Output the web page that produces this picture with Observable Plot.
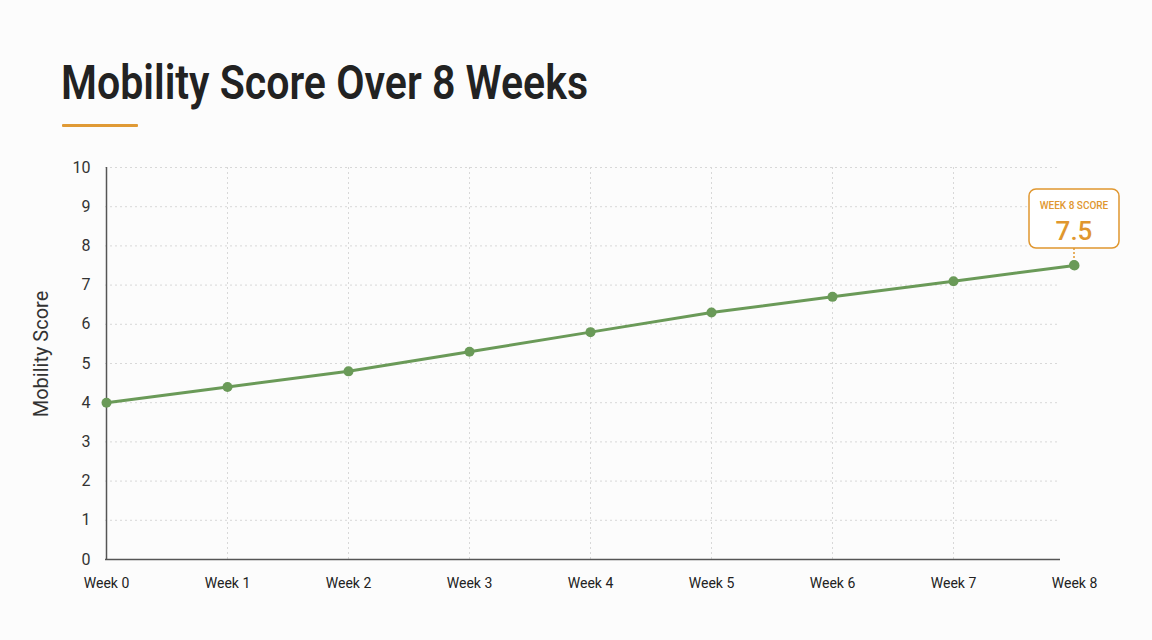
<!DOCTYPE html>
<html><head><meta charset="utf-8">
<script src="https://cdn.jsdelivr.net/npm/d3@7"></script>
<script src="https://cdn.jsdelivr.net/npm/@observablehq/plot@0.6"></script>
<style>
html,body{margin:0;padding:0;background:#fcfcfc;width:1152px;height:640px;overflow:hidden;position:relative;font-family:Roboto,sans-serif;}
#title{position:absolute;left:61px;top:54px;font-family:Roboto,"Liberation Sans",sans-serif;font-weight:600;font-size:48px;color:#222;white-space:nowrap;transform-origin:0 0;}
#bar{position:absolute;left:62px;top:124px;width:76px;height:3px;background:#e09a35;border-radius:1px;}
#chart{position:absolute;left:0;top:150px;}
</style></head>
<body>
<div id="title">Mobility Score Over 8 Weeks</div>
<div id="bar"></div>
<div id="chart"></div>
<script>
const weeks = ["Week 0","Week 1","Week 2","Week 3","Week 4","Week 5","Week 6","Week 7","Week 8"];
const scores = [4.0, 4.4, 4.8, 5.3, 5.8, 6.3, 6.7, 7.1, 7.5];
const yTicks = [0,1,2,3,4,5,6,7,8,9,10];
const annotationLabel = "WEEK 8 SCORE";

// condensed look for the title
const t = document.getElementById("title");
const tw = t.getBoundingClientRect().width;
t.style.transform = `scaleX(${527 / tw})`;

const data = weeks.map((w, i) => ({week: w, score: scores[i]}));
const green = "#6a9a58";
const orange = "#e0972f";

const plot = Plot.plot({
  width: 1152,
  height: 460,
  marginLeft: 105,
  marginRight: 92,
  marginTop: 17,
  marginBottom: 51,
  style: {background: "transparent", overflow: "visible"},
  x: {type: "point", domain: weeks, range: [105, 1074], padding: 0},
  y: {domain: [0, 10], ticks: yTicks},
  marks: [
    Plot.ruleY(yTicks.filter(d => d > 0), {stroke: "#d8d8d8", strokeDasharray: "2,3", strokeWidth: 1}),
    Plot.ruleX(weeks.slice(1, -1), {stroke: "#d8d8d8", strokeDasharray: "2,3", strokeWidth: 1}),
    Plot.axisY({ticks: yTicks, tickSize: 0, tickPadding: 15, fontSize: 16, label: null, fill: "#333",
      fontFamily: "Roboto, 'Noto Sans', sans-serif"}),
    Plot.axisX({tickSize: 0, tickPadding: 19, fontSize: 14, label: null, fill: "#222",
      fontFamily: "Roboto, sans-serif"}),
    Plot.ruleY([0], {stroke: "#555", strokeWidth: 1.5}),
    Plot.ruleX([weeks[0]], {stroke: "#555", strokeWidth: 1.5}),
    Plot.line(data, {x: "week", y: "score", stroke: green, strokeWidth: 3}),
    Plot.dot(data, {x: "week", y: "score", r: 5, fill: green, stroke: "none"})
  ]
});
document.getElementById("chart").appendChild(plot);

const svg = d3.select(plot);
const xs = plot.scale("x"), ys = plot.scale("y");
// y-axis title
svg.append("text")
  .attr("transform", `translate(48,${ys.apply(5) - 9}) rotate(-90)`)
  .attr("text-anchor", "middle")
  .attr("font-family", "Roboto, 'Noto Sans', sans-serif")
  .attr("font-size", 20).attr("fill", "#333")
  .text("Mobility Score");

// annotation callout on last point
const last = data[data.length - 1];
const px = xs.apply(last.week), py = ys.apply(last.score);
const bw = 90, bh = 59, gap = 17;
const g = svg.append("g");
g.append("line").attr("x1", px).attr("x2", px).attr("y1", py - gap).attr("y2", py - 5)
  .attr("stroke", orange).attr("stroke-width", 1.5).attr("stroke-dasharray", "2,2");
g.append("rect").attr("x", px - bw/2).attr("y", py - gap - bh).attr("width", bw).attr("height", bh)
  .attr("rx", 7).attr("fill", "#fff").attr("stroke", orange).attr("stroke-width", 1.5);
g.append("text").attr("x", px).attr("y", py - gap - bh + 20).attr("text-anchor", "middle")
  .attr("font-family", "Roboto, sans-serif").attr("font-size", 10).attr("font-weight", 500)
  .attr("fill", orange).text(annotationLabel);
g.append("text").attr("x", px).attr("y", py - gap - 8).attr("text-anchor", "middle")
  .attr("font-family", "Roboto, sans-serif").attr("font-size", 26).attr("font-weight", 500)
  .attr("fill", orange).text(last.score.toFixed(1));
g.append("circle").attr("cx", px).attr("cy", py).attr("r", 5).attr("fill", green);
</script>
</body></html>
